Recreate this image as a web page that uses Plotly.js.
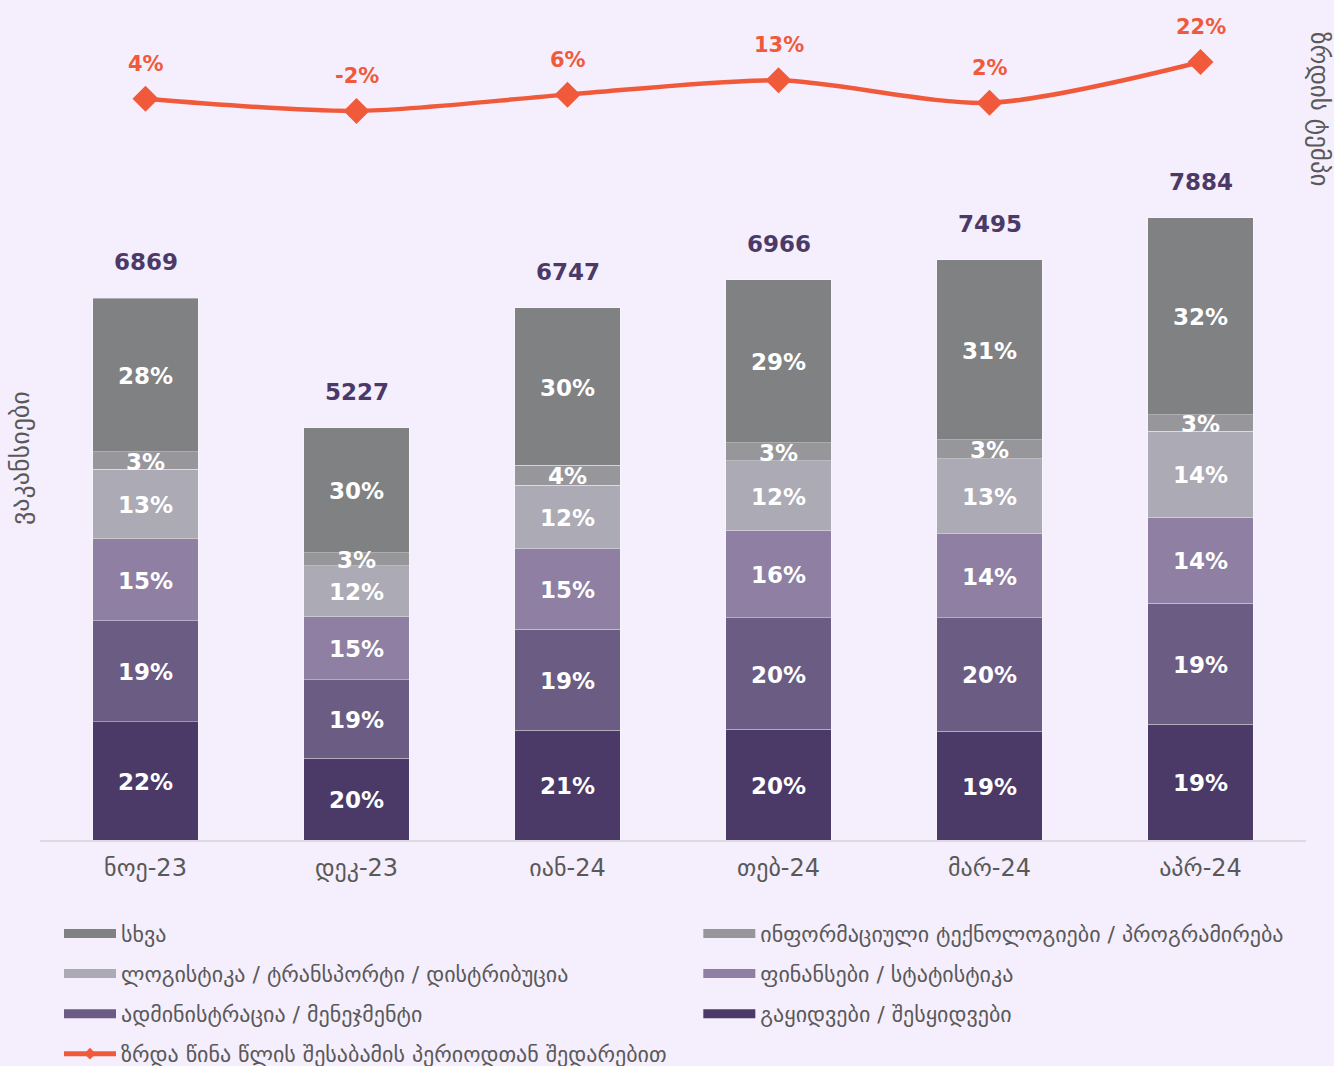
<!DOCTYPE html>
<html><head><meta charset="utf-8">
<script src="https://cdn.plot.ly/plotly-3.0.1.min.js"></script>
<style>body{margin:0;background:#F5EEFD}</style></head><body>
<div id="chart" style="width:1334px;height:1066px"></div>
<script>
const months = ['ნოე-23','დეკ-23','იან-24','თებ-24','მარ-24','აპრ-24'];
const totals = [6869, 5227, 6747, 6966, 7495, 7884];
const sales = [1496, 1036, 1388, 1403, 1380, 1470];
const admin = [1280, 993, 1285, 1411, 1440, 1530];
const finance = [1044, 803, 1016, 1110, 1060, 1090];
const logistics = [878, 645, 809, 882, 955, 1090];
const itProg = [223, 165, 249, 227, 240, 210];
const other = [1948, 1585, 2000, 2065, 2282, 2494];
const growth = [4, -2, 6, 13, 2, 22];

const seriesNames = {
  sales: 'გაყიდვები / შესყიდვები',
  admin: 'ადმინისტრაცია / მენეჯმენტი',
  finance: 'ფინანსები / სტატისტიკა',
  logistics: 'ლოგისტიკა / ტრანსპორტი / დისტრიბუცია',
  it: 'ინფორმაციული ტექნოლოგიები / პროგრამირება',
  other: 'სხვა',
  growth: 'ზრდა წინა წლის შესაბამის პერიოდთან შედარებით'
};
const colors = {
  sales: '#4B3A68', admin: '#6B5C84', finance: '#8E7FA3',
  logistics: '#ACAAB4', it: '#97969B', other: '#808182', growth: '#F05A3B'
};

const stack = [
  ['sales', sales], ['admin', admin], ['finance', finance],
  ['logistics', logistics], ['it', itProg], ['other', other]
];
const stackSum = months.map((m, i) => stack.reduce((s, [k, v]) => s + v[i], 0));

const traces = [];
const annotations = [];
const base = months.map(() => 0);
stack.forEach(([key, vals]) => {
  traces.push({
    type: 'bar', x: months, y: vals, name: seriesNames[key], showlegend: false,
    marker: {color: colors[key], line: {color: 'rgba(255,255,255,0.35)', width: 1}},
    hoverinfo: 'x+y+name'
  });
  // percentage labels drawn above every bar layer
  vals.forEach((v, i) => {
    annotations.push({
      x: months[i], y: base[i] + v / 2, xref: 'x', yref: 'y', showarrow: false,
      text: Math.round(v / stackSum[i] * 100) + '%', yanchor: 'middle', yshift: -1,
      font: {family: 'DejaVu Sans', size: 23, color: '#FFFFFF', weight: 'bold'}
    });
    base[i] += v;
  });
});

traces.push({
  type: 'scatter', mode: 'lines+markers', x: months, y: growth, yaxis: 'y2',
  name: seriesNames.growth, showlegend: false,
  line: {color: colors.growth, width: 4.5, shape: 'spline', smoothing: 0.8},
  marker: {symbol: 'diamond', size: 20, color: colors.growth},
  cliponaxis: false
});

// legend entries
const leftCol = ['other', 'logistics', 'admin'];
const rightCol = ['it', 'finance', 'sales'];
leftCol.forEach((k, i) => traces.push({
  type: 'scatter', mode: 'lines', x: [null], y: [null], name: seriesNames[k],
  line: {color: colors[k], width: 9}, legend: 'legend', legendgroup: 'l' + i, hoverinfo: 'skip'
}));
traces.push({
  type: 'scatter', mode: 'lines+markers', x: [null], y: [null], name: seriesNames.growth,
  line: {color: colors.growth, width: 5}, marker: {symbol: 'diamond', size: 9, color: colors.growth},
  legend: 'legend', legendgroup: 'l3', hoverinfo: 'skip'
});
rightCol.forEach((k, i) => traces.push({
  type: 'scatter', mode: 'lines', x: [null], y: [null], name: seriesNames[k],
  line: {color: colors[k], width: 9}, legend: 'legend2', legendgroup: 'r' + i, hoverinfo: 'skip'
}));

months.forEach((m, i) => {
  annotations.push({
    x: m, y: stackSum[i], xref: 'x', yref: 'y', text: String(totals[i]), showarrow: false,
    yanchor: 'middle', yshift: 36,
    font: {family: 'DejaVu Sans', size: 23, color: '#4B3A68', weight: 'bold'}
  });
  annotations.push({
    x: m, y: growth[i], xref: 'x', yref: 'y2', text: growth[i] + '%', showarrow: false,
    yanchor: 'middle', yshift: 35,
    font: {family: 'DejaVu Sans', size: 21, color: colors.growth, weight: 'bold'}
  });
});
annotations.push({
  xref: 'paper', yref: 'paper', x: 0, y: 0.5, xanchor: 'center', yanchor: 'middle',
  xshift: -20, yshift: -33,
  text: 'ვაკანსიები', textangle: -90, showarrow: false,
  font: {family: 'DejaVu Sans', size: 26, color: '#595959'}
});
annotations.push({
  xref: 'paper', yref: 'paper', x: 1, y: 1, xanchor: 'center', yanchor: 'middle',
  xshift: 14, yshift: -99,
  text: 'ზრდის ტემპი', textangle: 90, showarrow: false,
  font: {family: 'DejaVu Sans', size: 25, color: '#595959'}
});

const legendBase = {
  xref: 'paper', yref: 'paper', yanchor: 'top', xanchor: 'left',
  orientation: 'v', traceorder: 'grouped', tracegroupgap: 8.5, itemwidth: 52,
  bgcolor: 'rgba(0,0,0,0)', font: {family: 'DejaVu Sans', size: 22, color: '#595959'}
};

const layout = {
  width: 1334, height: 1066,
  paper_bgcolor: '#F5EEFD', plot_bgcolor: '#F5EEFD',
  margin: {l: 40, r: 28, t: 10, b: 226, autoexpand: false},
  barmode: 'stack', bargap: 0.5,
  font: {family: 'DejaVu Sans', color: '#595959'},
  xaxis: {
    type: 'category', range: [-0.5, 5.5], showline: true, linecolor: '#DCDAE0', linewidth: 2,
    ticks: '', ticklabelstandoff: 5, tickfont: {family: 'DejaVu Sans', size: 24, color: '#595959'},
    showgrid: false, zeroline: false
  },
  yaxis: {range: [0, 10520], visible: false, showgrid: false, zeroline: false},
  yaxis2: {overlaying: 'y', range: [-359.5, 47.5], visible: false, showgrid: false, zeroline: false},
  legend: Object.assign({}, legendBase, {x: 0.015, y: -0.0875}),
  legend2: Object.assign({}, legendBase, {x: 0.52, y: -0.0875}),
  showlegend: true,
  annotations: annotations
};

Plotly.newPlot('chart', traces, layout, {displayModeBar: false});
</script>
</body></html>
